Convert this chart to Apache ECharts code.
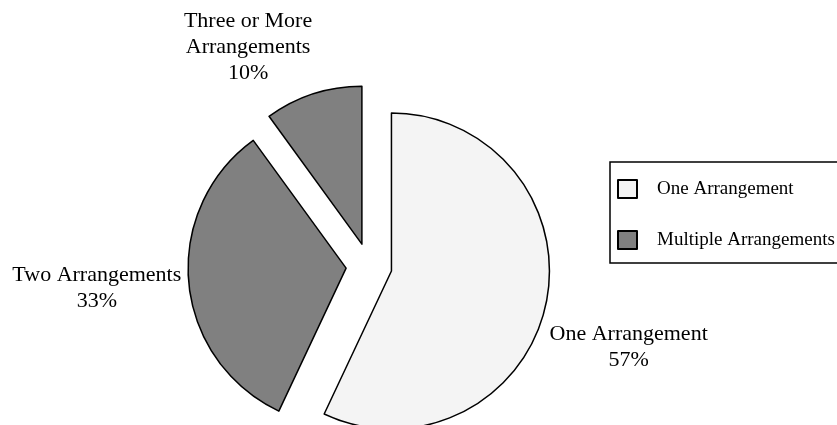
<!DOCTYPE html>
<html>
<head>
<meta charset="utf-8">
<script src="https://cdn.jsdelivr.net/npm/echarts@6/dist/echarts.min.js"></script>
<style>
html,body{margin:0;padding:0;background:#fff;}
#chart{width:837px;height:425px;}
</style>
</head>
<body>
<div id="chart"></div>
<script>
const categories = ['One Arrangement', 'Two Arrangements', 'Three or More Arrangements'];
const labelNames = ['One Arrangement', 'Two Arrangements', 'Three or More\nArrangements'];
const values = [57, 33, 10];
const sliceColors = ['#f4f4f4', '#808080', '#808080'];
const legendNames = ['One Arrangement', 'Multiple Arrangements'];
const legendColors = ['#f4f4f4', '#808080'];

const FONT = '"Liberation Serif", "Times New Roman", serif';
const labelShift = [[-7, 42], [-2, 5], [25, -47]];

const chart = echarts.init(document.getElementById('chart'), null, {renderer: 'canvas'});
chart.setOption({
  animation: false,
  backgroundColor: '#ffffff',
  legend: {
    data: legendNames,
    orient: 'vertical',
    left: 610,
    top: 162,
    padding: [17, 30, 13, 7],
    itemGap: 31,
    itemWidth: 19,
    itemHeight: 18,
    borderColor: '#000',
    borderWidth: 1.5,
    borderRadius: 0,
    selectedMode: false,
    icon: 'rect',
    textStyle: {fontFamily: FONT, fontSize: 19, color: '#000', lineHeight: 20, padding: [0, 0, 0, 15]}
  },
  series: [
    {
      type: 'pie',
      center: [369, 266],
      radius: 158,
      startAngle: 90,
      clockwise: true,
      selectedMode: 'multiple',
      selectedOffset: 23,
      silent: true,
      itemStyle: {borderColor: '#000', borderWidth: 1.5},
      label: {
        show: true,
        position: 'outside',
        formatter: function (p) {
          const lines = labelNames[p.dataIndex].split('\n').map(s => '{c|' + s + '}');
          lines.push('{c|' + values[p.dataIndex] + '%}');
          return lines.join('\n');
        },
        rich: {
          c: {width: 170, align: 'center', fontFamily: FONT, fontSize: 22, lineHeight: 26, color: '#000'}
        }
      },
      labelLine: {show: false, length: 0, length2: 0},
      labelLayout: function (p) {
        const s = labelShift[p.dataIndex];
        return {dx: s[0], dy: s[1]};
      },
      data: categories.map((c, i) => ({
        name: c,
        value: values[i],
        selected: true,
        itemStyle: {color: sliceColors[i]}
      }))
    },
    {
      type: 'pie',
      center: [-100, -100],
      radius: 0,
      silent: true,
      label: {show: false},
      labelLine: {show: false},
      itemStyle: {borderColor: '#000', borderWidth: 1.5},
      data: legendNames.slice(1).map((n, i) => ({name: n, value: 1, itemStyle: {color: legendColors[i + 1]}}))
    }
  ]
});
</script>
</body>
</html>
